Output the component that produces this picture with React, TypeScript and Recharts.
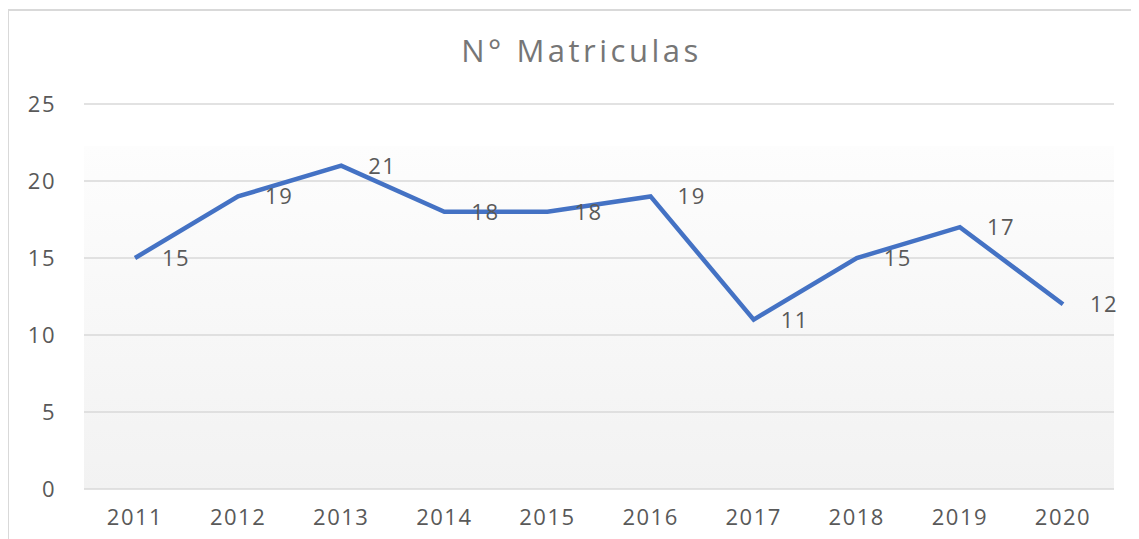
import { CartesianGrid, LabelList, Line, LineChart, XAxis, YAxis } from 'recharts';

const years = ['2011', '2012', '2013', '2014', '2015', '2016', '2017', '2018', '2019', '2020'];
const matriculas = [15, 19, 21, 18, 18, 19, 11, 15, 17, 12];
const yTicks = [0, 5, 10, 15, 20, 25];

const data = years.map((year, i) => ({ year, value: matriculas[i] }));

const FONT = '"Open Sans", sans-serif';

function PointLabel(props: any) {
  const { x, y, value } = props;
  return (
    <text
      x={x + 27}
      y={y - 1}
      dominantBaseline='central'
      textAnchor='start'
      fill='#595959'
      fontSize={22}
      fontFamily={FONT}
      letterSpacing={1.5}
    >
      {value}
    </text>
  );
}

function App() {
  return (
    <div
      style={{
        position: 'relative',
        width: 1131,
        height: 531,
        marginLeft: -1,
        marginTop: 1,
        borderLeft: '2px solid #d9d9d9',
        borderTop: '2px solid #d9d9d9',
        boxSizing: 'border-box',
        background: '#fff',
      }}
    >
      <div
        style={{
          position: 'absolute',
          left: 0,
          right: 0,
          top: 18,
          textAlign: 'center',
          fontFamily: FONT,
          fontSize: 31,
          letterSpacing: 3.5,
          color: '#767676',
          paddingLeft: 16,
        }}
      >
        N° Matriculas
      </div>
      <div style={{ position: 'absolute', left: -2, top: -2 }}>
        <LineChart width={1131} height={531} data={data} margin={{ top: 95, right: 24, bottom: 21, left: 0 }}>
          <defs>
            <linearGradient id='plotBg' x1='0' y1='0' x2='0' y2='1'>
              <stop offset='0' stopColor='#ffffff' />
              <stop offset='0.109' stopColor='#ffffff' />
              <stop offset='0.11' stopColor='#fdfdfd' />
              <stop offset='1' stopColor='#f2f2f2' />
            </linearGradient>
          </defs>
          <CartesianGrid vertical={false} stroke='#d9d9d9' strokeWidth={1.5} fill='url(#plotBg)' />
          <XAxis
            dataKey='year'
            axisLine={false}
            tickLine={false}
            height={30}
            tickMargin={14}
            padding={{ left: 51, right: 51 }}
            tick={{ fill: '#595959', fontSize: 22, fontFamily: FONT, letterSpacing: 1.5 }}
          />
          <YAxis
            domain={[0, 25]}
            ticks={yTicks}
            axisLine={false}
            tickLine={false}
            width={77}
            tickMargin={22}
            tick={{ fill: '#595959', fontSize: 22, fontFamily: FONT, letterSpacing: 1.5 }}
          />
          <Line
            type='linear'
            dataKey='value'
            stroke='#4472C4'
            strokeWidth={4.5}
            dot={false}
            activeDot={false}
            isAnimationActive={false}
          >
            <LabelList dataKey='value' content={<PointLabel />} />
          </Line>
        </LineChart>
      </div>
    </div>
  );
}

export default App;
